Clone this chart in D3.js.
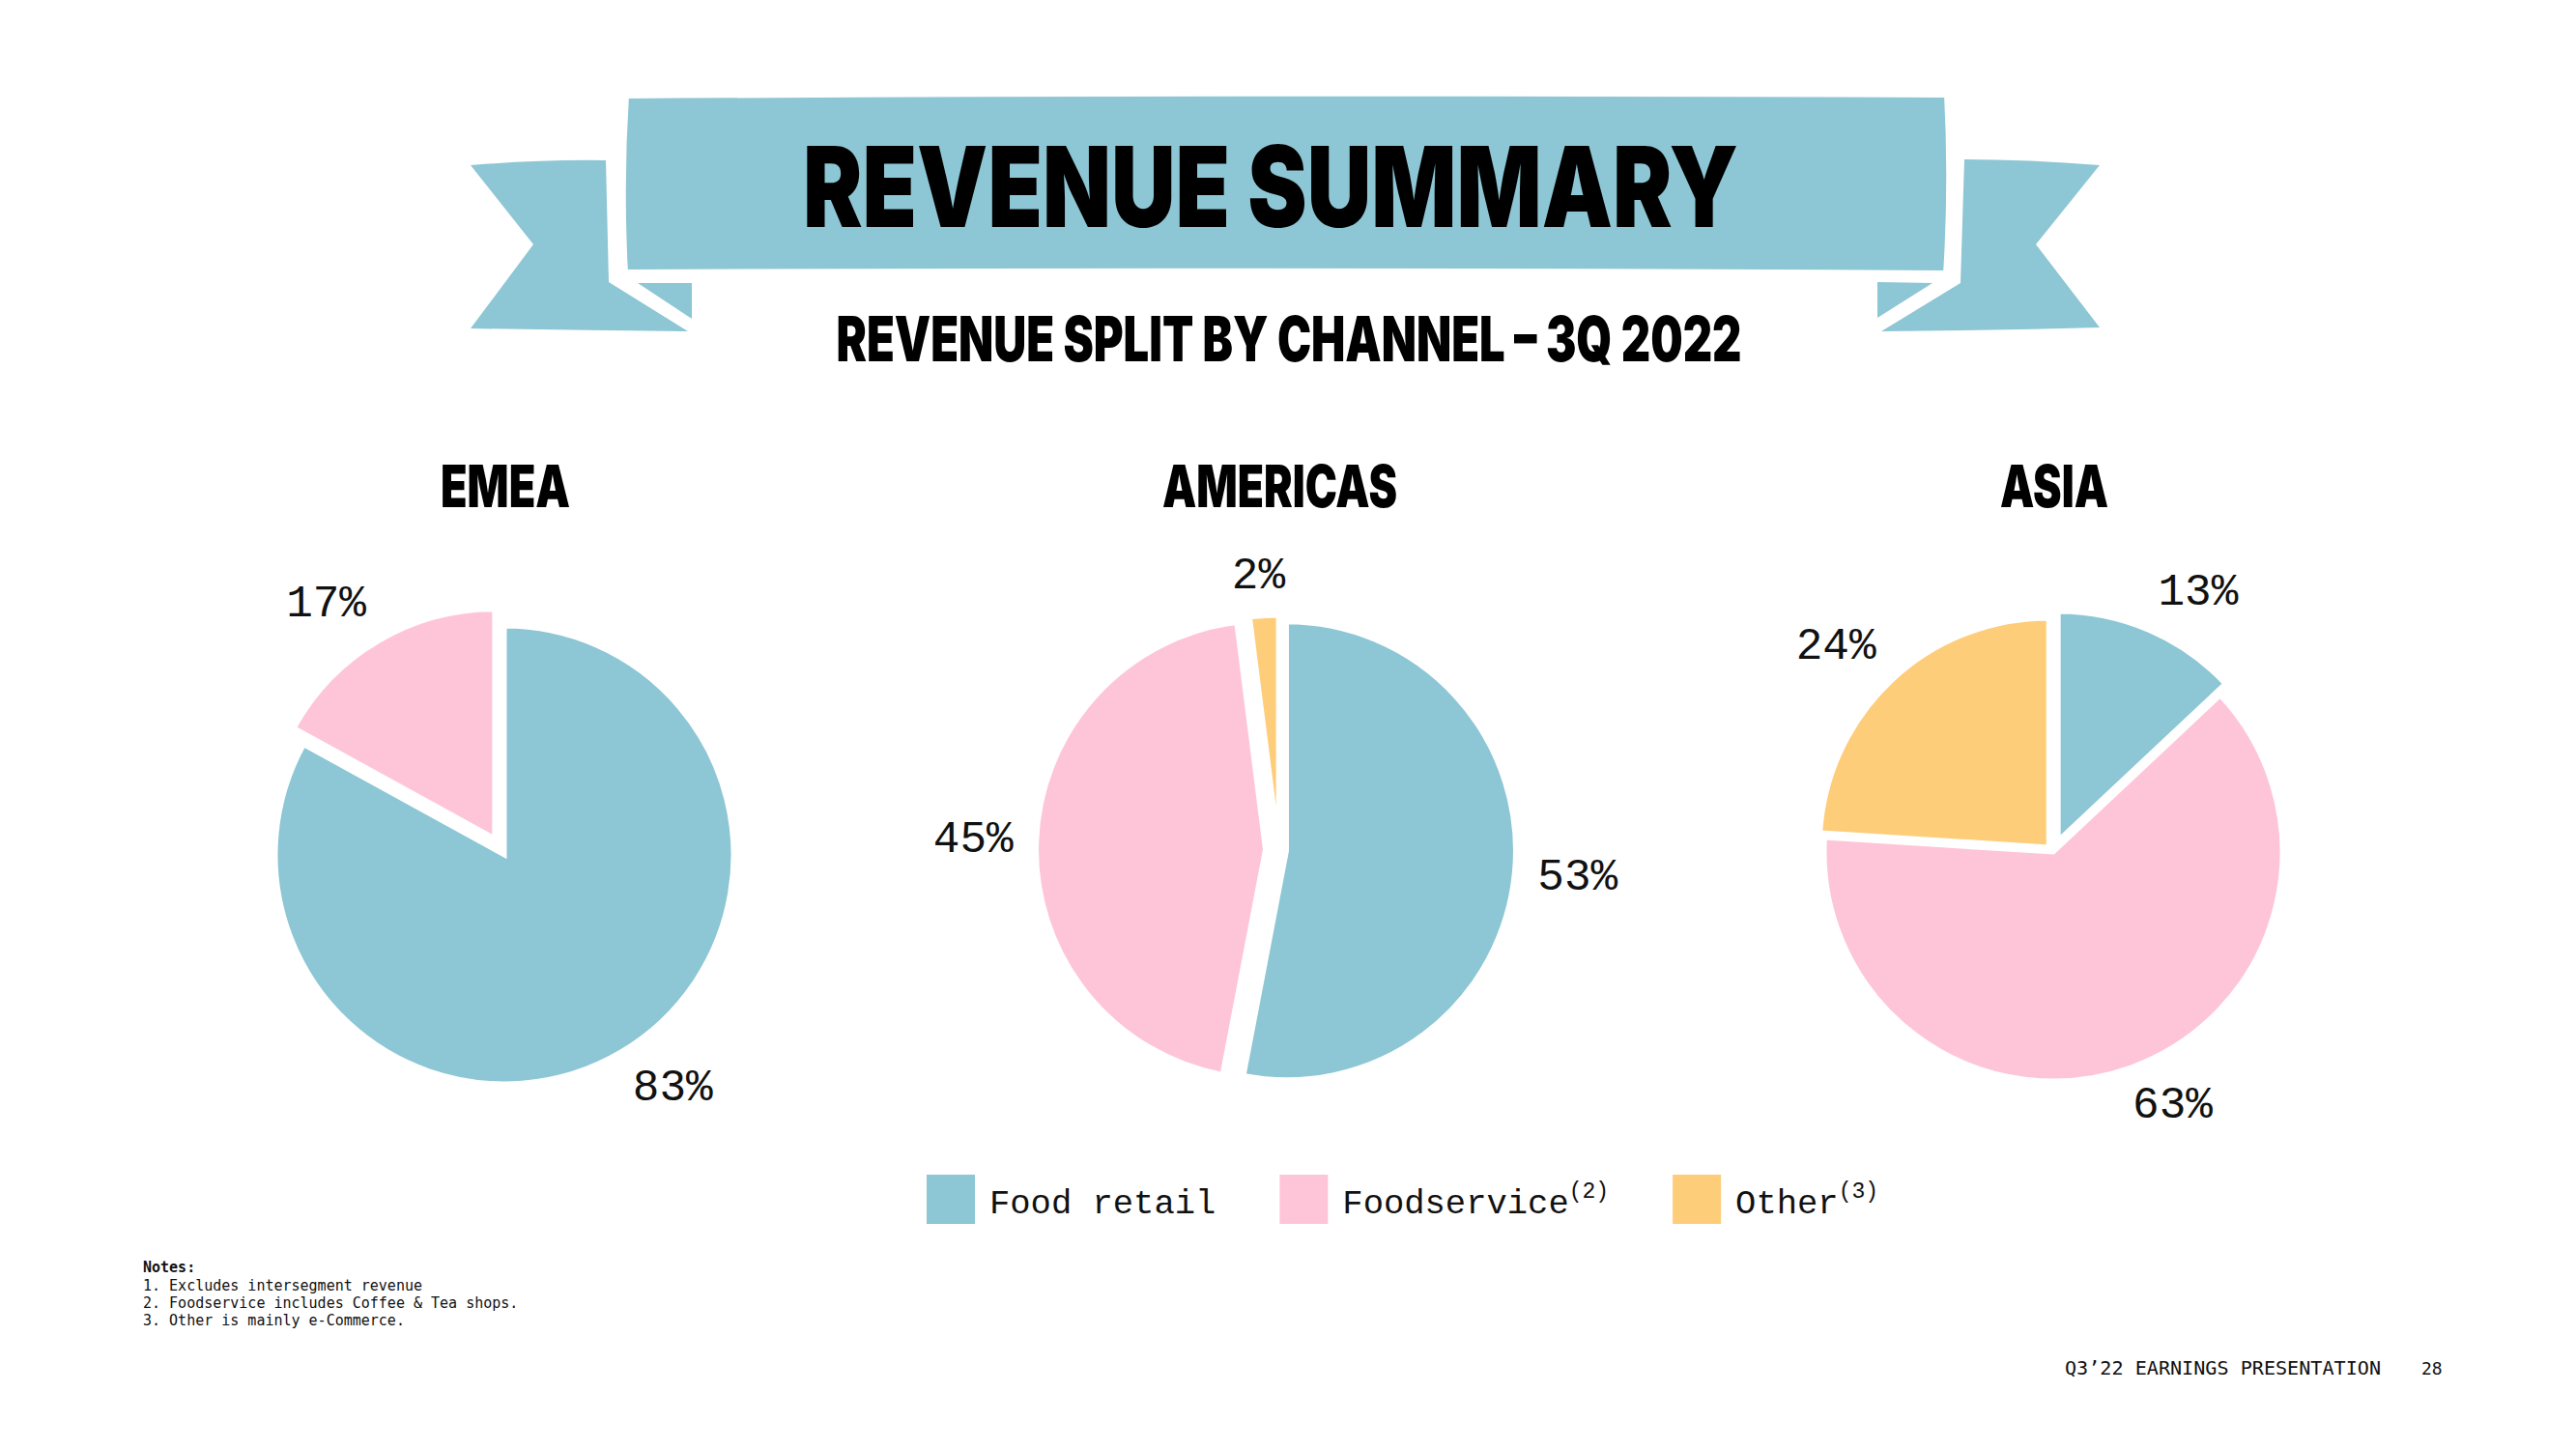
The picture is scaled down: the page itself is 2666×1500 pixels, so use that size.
<!DOCTYPE html>
<html>
<head>
<meta charset="utf-8">
<script src="https://cdn.jsdelivr.net/npm/d3@7"></script>
<style>
  html, body { margin: 0; padding: 0; background: #ffffff; }
  svg { display: block; }
</style>
</head>
<body>
<svg id="chart" width="2666" height="1500"></svg>
<script>
// ---------------- DATA ----------------
const categories = ["Food retail", "Foodservice", "Other"];
const categoryNoteRefs = ["", "(2)", "(3)"];
const regions = ["EMEA", "AMERICAS", "ASIA"];
const emeaValues = [83, 17, 0];
const americasValues = [53, 45, 2];
const asiaValues = [13, 63, 24];
const titleText = "REVENUE SUMMARY";
const subtitleText = "REVENUE SPLIT BY CHANNEL – 3Q 2022";
const notesTitle = "Notes:";
const notesLines = [
  "1. Excludes intersegment revenue",
  "2. Foodservice includes Coffee & Tea shops.",
  "3. Other is mainly e-Commerce."
];
const footerText = "Q3\u201922 EARNINGS PRESENTATION";
const pageNumber = "28";

// ---------------- STYLE / LAYOUT ----------------
const colorScale = d3.scaleOrdinal().domain(categories).range(["#8DC6D4", "#FEC5D9", "#FECD7A"]);
const bannerColor = "#8DC6D4";
const explodeBy = { // slice explosion in px, per region per category
  "EMEA": [0, 20, 0],
  "AMERICAS": [8, 14, 6],
  "ASIA": [13, 0, 7]
};
const regionValues = { "EMEA": emeaValues, "AMERICAS": americasValues, "ASIA": asiaValues };

const svg = d3.select("#chart");

const titleFont = "Inter, 'Open Sans', Roboto, sans-serif";
const monoFont = "'Liberation Mono', 'DejaVu Sans Mono', monospace";

// ---------------- BANNER ----------------
const banner = svg.append("g");
banner.append("path")
  .attr("d", "M487,171 Q560,165 627,166 L630,292 L712,343 Q600,342 487,340 L552,253 Z")
  .attr("fill", bannerColor);
banner.append("path")
  .attr("d", "M660,293 L716,293 L716,330 Z")
  .attr("fill", bannerColor);
banner.append("path")
  .attr("d", "M2173,171 Q2100,165 2033,165 L2029,293 L1947,343 Q2060,342 2173,339 L2107,253 Z")
  .attr("fill", bannerColor);
banner.append("path")
  .attr("d", "M1943,292 L2000,293 L1943,329 Z")
  .attr("fill", bannerColor);
banner.append("path")
  .attr("d", "M647,98 Q1330,94 2016,97 Q2021,190 2015,284 Q1330,280 646,283 Q641,190 647,98 Z")
  .attr("fill", bannerColor)
  .attr("stroke", "#ffffff")
  .attr("stroke-width", 8);

svg.append("text")
  .attr("x", 1315).attr("y", 235)
  .attr("text-anchor", "middle")
  .attr("font-family", titleFont)
  .attr("font-weight", 900)
  .attr("font-size", 116)
  .attr("textLength", 968)
  .attr("lengthAdjust", "spacingAndGlyphs")
  .attr("fill", "#000")
  .text(titleText);

svg.append("text")
  .attr("x", 1334).attr("y", 374)
  .attr("text-anchor", "middle")
  .attr("font-family", titleFont)
  .attr("font-weight", 900)
  .attr("font-size", 64)
  .attr("textLength", 937)
  .attr("lengthAdjust", "spacingAndGlyphs")
  .attr("fill", "#000")
  .text(subtitleText);

// ---------------- PIES ----------------
const xScale = d3.scalePoint().domain(regions).range([522, 2125]);
const cyOf = { "EMEA": 885, "AMERICAS": 880, "ASIA": 882 };
const radius = 237;
const titleWidths = { "EMEA": 134, "AMERICAS": 243, "ASIA": 112 };

const pie = d3.pie().sort(null).value(d => d.value);
const arc = d3.arc().innerRadius(0).outerRadius(radius);

regions.forEach(region => {
  const cx = xScale(region), cy = cyOf[region];
  const g = svg.append("g").attr("transform", `translate(${cx},${cy})`);

  svg.append("text")
    .attr("x", cx + 1).attr("y", 525)
    .attr("text-anchor", "middle")
    .attr("font-family", titleFont)
    .attr("font-weight", 900)
    .attr("font-size", 60)
    .attr("textLength", titleWidths[region])
    .attr("lengthAdjust", "spacingAndGlyphs")
    .attr("fill", "#000")
    .text(region);

  const data = categories.map((c, i) => ({ cat: c, value: regionValues[region][i], idx: i }))
    .filter(d => d.value > 0);
  const arcs = pie(data);

  arcs.forEach(a => {
    const mid = (a.startAngle + a.endAngle) / 2;
    const ex = explodeBy[region][a.data.idx];
    const ox = Math.sin(mid) * ex, oy = -Math.cos(mid) * ex;
    g.append("path")
      .attr("d", arc(a))
      .attr("transform", `translate(${ox},${oy})`)
      .attr("fill", colorScale(a.data.cat))
      .attr("stroke", "#ffffff")
      .attr("stroke-width", 5)
      .attr("stroke-linejoin", "miter");

    const label = g.append("text")
      .attr("font-family", monoFont)
      .attr("font-size", 46)
      .attr("fill", "#111")
      .attr("text-anchor", "middle")
      .attr("dominant-baseline", "central")
      .text(a.data.value + "%");
    const hw = label.node().getComputedTextLength() / 2;
    const hh = 17, gap = 24;
    const s = Math.sin(mid), c = Math.cos(mid);
    const clamp = v => Math.max(-1, Math.min(1, v));
    const lx = ox + s * (radius + gap) + hw * clamp(s * 2.5);
    const ly = oy - c * (radius + gap) - hh * clamp(c * 2);
    label.attr("x", lx).attr("y", ly);
  });
});

// ---------------- LEGEND ----------------
const legend = svg.append("g");
let lxPos = 959;
categories.forEach((c, i) => {
  legend.append("rect")
    .attr("x", lxPos).attr("y", 1216)
    .attr("width", 50).attr("height", 51)
    .attr("fill", colorScale(c));
  const t = legend.append("text")
    .attr("x", lxPos + 65).attr("y", 1256)
    .attr("font-family", monoFont)
    .attr("font-size", 35.5)
    .attr("fill", "#111");
  t.append("tspan").text(c);
  if (categoryNoteRefs[i]) {
    t.append("tspan")
      .attr("font-size", 23)
      .attr("dy", -16)
      .text(categoryNoteRefs[i]);
  }
  const w = t.node().getComputedTextLength();
  lxPos = lxPos + 65 + w + 66;
});

// ---------------- NOTES ----------------
const notesG = svg.append("g").attr("font-family", "'DejaVu Sans Mono', monospace").attr("font-size", 15).attr("fill", "#111");
notesG.append("text").attr("x", 148).attr("y", 1317).attr("font-weight", "bold").text(notesTitle);
notesLines.forEach((line, i) => {
  notesG.append("text").attr("x", 148).attr("y", 1336 + i * 18).text(line);
});

// ---------------- FOOTER ----------------
svg.append("text")
  .attr("x", 2137).attr("y", 1423)
  .attr("font-family", "'DejaVu Sans Mono', monospace")
  .attr("font-size", 20)
  .attr("textLength", 327)
  .attr("lengthAdjust", "spacingAndGlyphs")
  .attr("fill", "#111")
  .text(footerText);
svg.append("text")
  .attr("x", 2506).attr("y", 1423)
  .attr("font-family", "'DejaVu Sans Mono', monospace")
  .attr("font-size", 18)
  .attr("fill", "#111")
  .text(pageNumber);
</script>
</body>
</html>
